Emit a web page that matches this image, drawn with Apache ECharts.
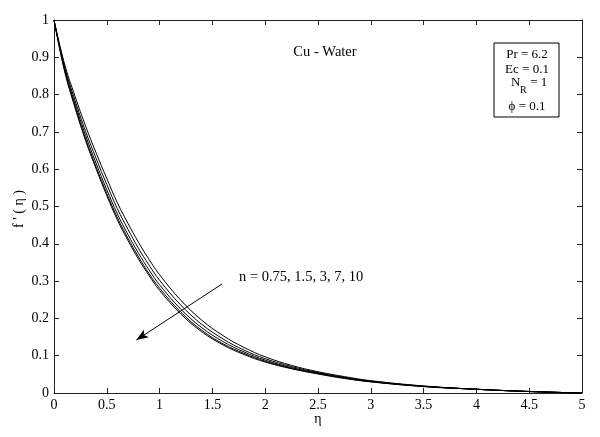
<!DOCTYPE html>
<html>
<head>
<meta charset="utf-8">
<script src="https://cdn.jsdelivr.net/npm/echarts@6/dist/echarts.min.js"></script>
<style>
html,body{margin:0;padding:0;background:#fff;}
#chart{width:600px;height:437px;}
</style>
</head>
<body>
<div id="chart"></div>
<script>
// eta grid
const eta = [0, 0.1, 0.2, 0.3, 0.4, 0.5, 0.6, 0.7, 0.8, 0.9, 1.0, 1.2, 1.4, 1.6, 1.8, 2.0, 2.25, 2.5, 2.75, 3.0, 3.5, 4.0, 4.5, 5.0];
// f'(eta) for n = 0.75, 1.5, 3, 7, 10
const f_n075 = [1, 0.882, 0.795, 0.715, 0.643, 0.575, 0.510, 0.455, 0.404, 0.358, 0.317, 0.249, 0.195, 0.154, 0.122, 0.097, 0.074, 0.057, 0.044, 0.033, 0.019, 0.010, 0.004, 0];
const f_n15  = [1, 0.875, 0.784, 0.701, 0.628, 0.559, 0.494, 0.439, 0.388, 0.343, 0.302, 0.236, 0.184, 0.145, 0.115, 0.092, 0.071, 0.055, 0.042, 0.032, 0.018, 0.010, 0.004, 0];
const f_n3   = [1, 0.870, 0.775, 0.690, 0.615, 0.545, 0.480, 0.425, 0.375, 0.330, 0.290, 0.225, 0.175, 0.138, 0.110, 0.088, 0.068, 0.053, 0.041, 0.031, 0.018, 0.010, 0.004, 0];
const f_n7   = [1, 0.866, 0.768, 0.681, 0.605, 0.535, 0.470, 0.415, 0.365, 0.320, 0.281, 0.217, 0.168, 0.132, 0.106, 0.085, 0.066, 0.052, 0.040, 0.030, 0.018, 0.010, 0.004, 0];
const f_n10  = [1, 0.863, 0.764, 0.676, 0.600, 0.529, 0.464, 0.409, 0.359, 0.315, 0.275, 0.212, 0.164, 0.129, 0.103, 0.083, 0.065, 0.051, 0.039, 0.030, 0.017, 0.010, 0.004, 0];
const seriesNames = ['n = 0.75', 'n = 1.5', 'n = 3', 'n = 7', 'n = 10'];
const seriesValues = [f_n075, f_n15, f_n3, f_n7, f_n10];
// arrow annotation endpoints (data coords)
const arrowFrom = [1.59, 0.292];
const arrowTo = [0.78, 0.142];

const FONT = '"Times New Roman", "Liberation Serif", serif';
const chart = echarts.init(document.getElementById('chart'), null, {renderer: 'canvas'});

const series = seriesValues.map((vals, i) => ({
  name: seriesNames[i],
  type: 'line',
  xAxisIndex: 0,
  yAxisIndex: 0,
  data: eta.map((x, j) => [x, vals[j]]),
  smooth: 0.4,
  showSymbol: false,
  lineStyle: {color: '#000', width: 1},
  z: 3
}));
series[0].markLine = {
  silent: true,
  symbol: ['none', 'arrow'],
  symbolSize: [7, 12],
  label: {show: false},
  lineStyle: {color: '#000', width: 1, type: 'solid'},
  data: [[{coord: arrowFrom}, {coord: arrowTo}]]
};

function axis(extra) {
  return Object.assign({
    type: 'value',
    axisLine: {show: true, onZero: false, lineStyle: {color: '#222', width: 1}},
    axisTick: {show: true, inside: true, length: 5, lineStyle: {color: '#222'}},
    splitLine: {show: false}
  }, extra);
}

chart.setOption({
  animation: false,
  backgroundColor: '#fff',
  grid: {left: 54, right: 18, top: 20, bottom: 44, show: false},
  xAxis: [
    axis({min: 0, max: 5, interval: 0.5, position: 'bottom',
      axisLabel: {color: '#000', fontFamily: FONT, fontSize: 14, margin: 5}}),
    axis({min: 0, max: 5, interval: 0.5, position: 'top', axisLabel: {show: false}})
  ],
  yAxis: [
    axis({min: 0, max: 1, interval: 0.1, position: 'left',
      axisLabel: {color: '#000', fontFamily: FONT, fontSize: 14, margin: 5}}),
    axis({min: 0, max: 1, interval: 0.1, position: 'right', axisLabel: {show: false}})
  ],
  series: series,
  graphic: [
    {type: 'text', x: 318, y: 419, style: {text: 'η', font: '14px ' + FONT, fill: '#000', textAlign: 'center', textVerticalAlign: 'middle'}},
    {type: 'text', x: 19, y: 209, rotation: Math.PI / 2, style: {text: "f ' ( η )", font: '14px ' + FONT, fill: '#000', textAlign: 'center', textVerticalAlign: 'middle'}},
    {type: 'text', x: 325, y: 52, style: {text: 'Cu - Water', font: '14.5px ' + FONT, fill: '#000', textAlign: 'center', textVerticalAlign: 'middle'}},
    {type: 'rect', shape: {x: 494, y: 43, width: 65, height: 74}, style: {fill: '#fff', stroke: '#000', lineWidth: 1}},
    {type: 'text', x: 527, y: 55, style: {text: 'Pr = 6.2', font: '13px ' + FONT, fill: '#000', textAlign: 'center', textVerticalAlign: 'middle'}},
    {type: 'text', x: 527, y: 70, style: {text: 'Ec = 0.1', font: '13px ' + FONT, fill: '#000', textAlign: 'center', textVerticalAlign: 'middle'}},
    {type: 'text', x: 511, y: 83, style: {text: 'N', font: '13px ' + FONT, fill: '#000', textAlign: 'left', textVerticalAlign: 'middle'}},
    {type: 'text', x: 520, y: 90, style: {text: 'R', font: '10px ' + FONT, fill: '#000', textAlign: 'left', textVerticalAlign: 'middle'}},
    {type: 'text', x: 527, y: 83, style: {text: ' = 1', font: '13px ' + FONT, fill: '#000', textAlign: 'left', textVerticalAlign: 'middle'}},
    {type: 'text', x: 527, y: 107, style: {text: 'ϕ = 0.1', font: '13px ' + FONT, fill: '#000', textAlign: 'center', textVerticalAlign: 'middle'}},
    {type: 'text', x: 239, y: 277, style: {text: 'n = 0.75, 1.5, 3, 7, 10', font: '14.5px ' + FONT, fill: '#000', textAlign: 'left', textVerticalAlign: 'middle'}}
  ]
});
</script>
</body>
</html>
